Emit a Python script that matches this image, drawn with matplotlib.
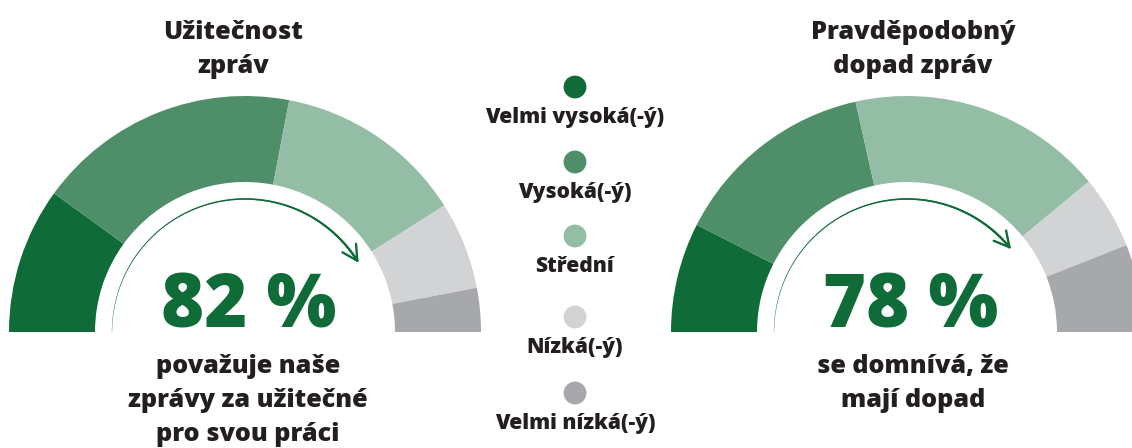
import numpy as np
import matplotlib.pyplot as plt
from matplotlib.patches import Wedge
from matplotlib.collections import LineCollection

plt.rcParams['font.family'] = ['Open Sans', 'DejaVu Sans']

# data
levels = ['Velmi vysoká(-ý)', 'Vysoká(-ý)', 'Střední', 'Nízká(-ý)', 'Velmi nízká(-ý)']
colors = ['#0f6b37', '#4e8f6a', '#93bda5', '#d2d3d5', '#a6a8ab']
usefulness = [20, 36, 26, 12, 6]
impact = [15, 28, 35, 10, 12]
usefulness_pct = 82
impact_pct = 78
titles = ['Užitečnost\nzpráv', 'Pravděpodobný\ndopad zpráv']
captions = ['považuje naše\nzprávy za užitečné\npro svou práci', 'se domnívá, že\nmají dopad']

W, H = 1132, 448
GREEN = '#0f6b37'
DARK = '#231f20'

fig = plt.figure(figsize=(W/100, H/100), dpi=100)
ax = fig.add_axes([0, 0, 1, 1])
ax.set_xlim(0, W)
ax.set_ylim(0, H)
ax.set_aspect('equal')
ax.axis('off')

def px(y):
    # image rows -> axis units
    return H - y

def text_lines(x, y0, s, step, **kw):
    for i, line in enumerate(s.split('\n')):
        ax.text(x, px(y0 + i*step), line, ha='center', va='baseline', **kw)

def gauge(cx, shares, pct, title, tcx, caption, ccx):
    cy = px(332)
    r_out, r_in = 236, 150
    start = 180.0
    for v, c in zip(shares, colors):
        end = start - v * 1.8
        ax.add_patch(Wedge((cx, cy), r_out, end, start, width=r_out - r_in,
                           facecolor=c, edgecolor='none'))
        start = end
    # arrow arc
    r_a = 133
    a_end = 180 - pct * 1.8
    t = np.radians(np.linspace(180, a_end, 200))
    xs = cx + r_a*np.cos(t)
    ys = cy + r_a*np.sin(t)
    pts = np.column_stack([xs, ys]).reshape(-1, 1, 2)
    segs = np.concatenate([pts[:-1], pts[1:]], axis=1)
    lw = np.linspace(0.2, 1.7, len(segs))
    ax.add_collection(LineCollection(segs, linewidths=lw, colors=GREEN, capstyle='round'))
    # arrow head (open chevron)
    te = t[-1]
    tang = np.array([np.sin(te), -np.cos(te)])
    norm = np.array([np.cos(te), np.sin(te)])
    tip = np.array([xs[-1], ys[-1]])
    for s in (1, -1):
        p = tip - 15*tang + s*8*norm
        ax.plot([p[0], tip[0]], [p[1], tip[1]], color=GREEN, lw=1.7, solid_capstyle='round')
    ax.text(cx + 4, px(327), f'{pct} %', ha='center', va='baseline', color=GREEN,
            fontsize=53, fontweight='heavy')
    text_lines(tcx, 39, title, 34, color=DARK, fontsize=18.3, fontweight='heavy')
    text_lines(ccx, 373, caption, 34, color=DARK, fontsize=18.2, fontweight='heavy')

gauge(245, usefulness, usefulness_pct, titles[0], 233, captions[0], 248)
gauge(907, impact, impact_pct, titles[1], 913, captions[1], 913)

# legend
leg_y = [87, 162, 236, 317, 393]
for lab, c, y in zip(levels, colors, leg_y):
    ax.scatter([575], [px(y)], s=270, color=c, edgecolors='none')
    ax.text(575, px(y + 36), lab, ha='center', va='baseline', color=DARK,
            fontsize=15.1, fontweight='heavy')

fig.savefig('out.png', dpi=100)
